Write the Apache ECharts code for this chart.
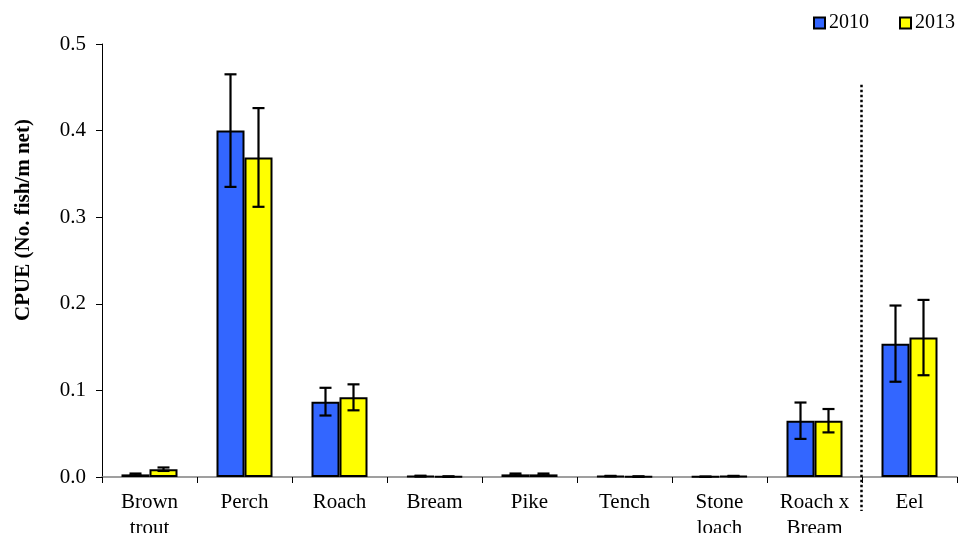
<!DOCTYPE html>
<html>
<head>
<meta charset="utf-8">
<script src="https://cdn.jsdelivr.net/npm/echarts@6/dist/echarts.min.js"></script>
<style>
  html, body { margin: 0; padding: 0; background: #fff; }
  #chart { width: 959px; height: 533px; }
</style>
</head>
<body>
<div id="chart"></div>
<script>
// Catch per unit effort by species, two survey years
const species = ['Brown\ntrout', 'Perch', 'Roach', 'Bream', 'Pike', 'Tench', 'Stone\nloach', 'Roach x\nBream', 'Eel'];
const cpue2010 = [0.003, 0.400, 0.087, 0.001, 0.003, 0.001, 0.0003, 0.065, 0.154];
const cpue2013 = [0.009, 0.369, 0.092, 0.0005, 0.003, 0.0005, 0.001, 0.065, 0.161];
const se2010 = [0.001, 0.065, 0.016, 0.0005, 0.001, 0.0003, 0.0002, 0.021, 0.044];
const se2013 = [0.002, 0.057, 0.015, 0.0003, 0.001, 0.0003, 0.0003, 0.0135, 0.0435];
const yTicks = [0.0, 0.1, 0.2, 0.3, 0.4, 0.5];
const yTitle = 'CPUE (No. fish/m net)';

const FONT = 'Liberation Serif';
const BAR_W = 28;

const chart = echarts.init(document.getElementById('chart'));

function errorSeries(name, means, errs, offset) {
  return {
    type: 'custom',
    name: name + ' error',
    z: 5,
    silent: true,
    data: means.map((m, i) => [i, m - errs[i], m + errs[i]]),
    renderItem: function (params, api) {
      const idx = api.value(0);
      const lo = api.coord([idx, api.value(1)]);
      const hi = api.coord([idx, api.value(2)]);
      const x = lo[0] + offset;
      const cap = 6;
      const style = { stroke: '#000', lineWidth: 2.2 };
      return {
        type: 'group',
        children: [
          { type: 'line', shape: { x1: x, y1: lo[1], x2: x, y2: hi[1] }, style: style },
          { type: 'line', shape: { x1: x - cap, y1: lo[1], x2: x + cap, y2: lo[1] }, style: style },
          { type: 'line', shape: { x1: x - cap, y1: hi[1], x2: x + cap, y2: hi[1] }, style: style }
        ]
      };
    }
  };
}

chart.setOption({
  animation: false,
  backgroundColor: '#fff',
  textStyle: { fontFamily: FONT },
  grid: { left: 102, right: 2, top: 44, bottom: 56, containLabel: false, outerBoundsMode: 'none' },
  legend: {
    data: ['2010', '2013'],
    right: 4,
    top: 13,
    padding: 0,
    icon: 'rect',
    itemWidth: 11,
    itemHeight: 11,
    itemGap: 30,
    textStyle: { fontFamily: FONT, fontSize: 20, color: '#000', padding: [0, 0, 0, -1] }
  },
  xAxis: {
    type: 'category',
    data: species,
    axisLine: { lineStyle: { color: '#808080', width: 1.5 } },
    axisTick: { show: true, length: 6, lineStyle: { color: '#000', width: 1 } },
    axisLabel: { fontFamily: FONT, fontSize: 21, color: '#000', margin: 12, lineHeight: 26, interval: 0 }
  },
  yAxis: {
    type: 'value',
    min: 0,
    max: 0.5,
    interval: 0.1,
    axisLine: { show: true, lineStyle: { color: '#000', width: 1 } },
    axisTick: { show: true, length: 6, lineStyle: { color: '#000' } },
    splitLine: { show: false },
    axisLabel: {
      fontFamily: FONT, fontSize: 21, color: '#000', margin: 16,
      formatter: v => yTicks.find(t => Math.abs(t - v) < 1e-9).toFixed(1)
    }
  },
  series: [
    {
      name: '2010', type: 'bar', data: cpue2010, barWidth: BAR_W, barGap: '0%',
      itemStyle: { color: '#3366FF', borderColor: '#000', borderWidth: 2 }
    },
    {
      name: '2013', type: 'bar', data: cpue2013, barWidth: BAR_W, barGap: '0%',
      itemStyle: { color: '#FFFF00', borderColor: '#000', borderWidth: 2 }
    },
    errorSeries('2010', cpue2010, se2010, -BAR_W / 2),
    errorSeries('2013', cpue2013, se2013, BAR_W / 2)
  ]
});

// Dotted divider between the cyprinid groups and eel, plus the vertical axis title
const c7 = chart.convertToPixel({ xAxisIndex: 0 }, 7);
const c8 = chart.convertToPixel({ xAxisIndex: 0 }, 8);
const divX = Math.round((c7 + c8) / 2) - 0.5;
const divTop = chart.convertToPixel({ yAxisIndex: 0 }, 0.453);
const divBottom = chart.convertToPixel({ yAxisIndex: 0 }, 0) + 34;
chart.setOption({
  graphic: [
    {
      type: 'line',
      shape: { x1: divX, y1: divTop, x2: divX, y2: divBottom },
      style: { stroke: '#000', lineWidth: 2.5, lineDash: [2.5, 2.5] },
      z: 10
    },
    {
      type: 'text',
      x: 24,
      y: 220,
      rotation: Math.PI / 2,
      style: {
        text: yTitle,
        font: 'bold 21px "Liberation Serif"',
        fill: '#000',
        align: 'center',
        verticalAlign: 'middle'
      }
    }
  ]
});
</script>
</body>
</html>
